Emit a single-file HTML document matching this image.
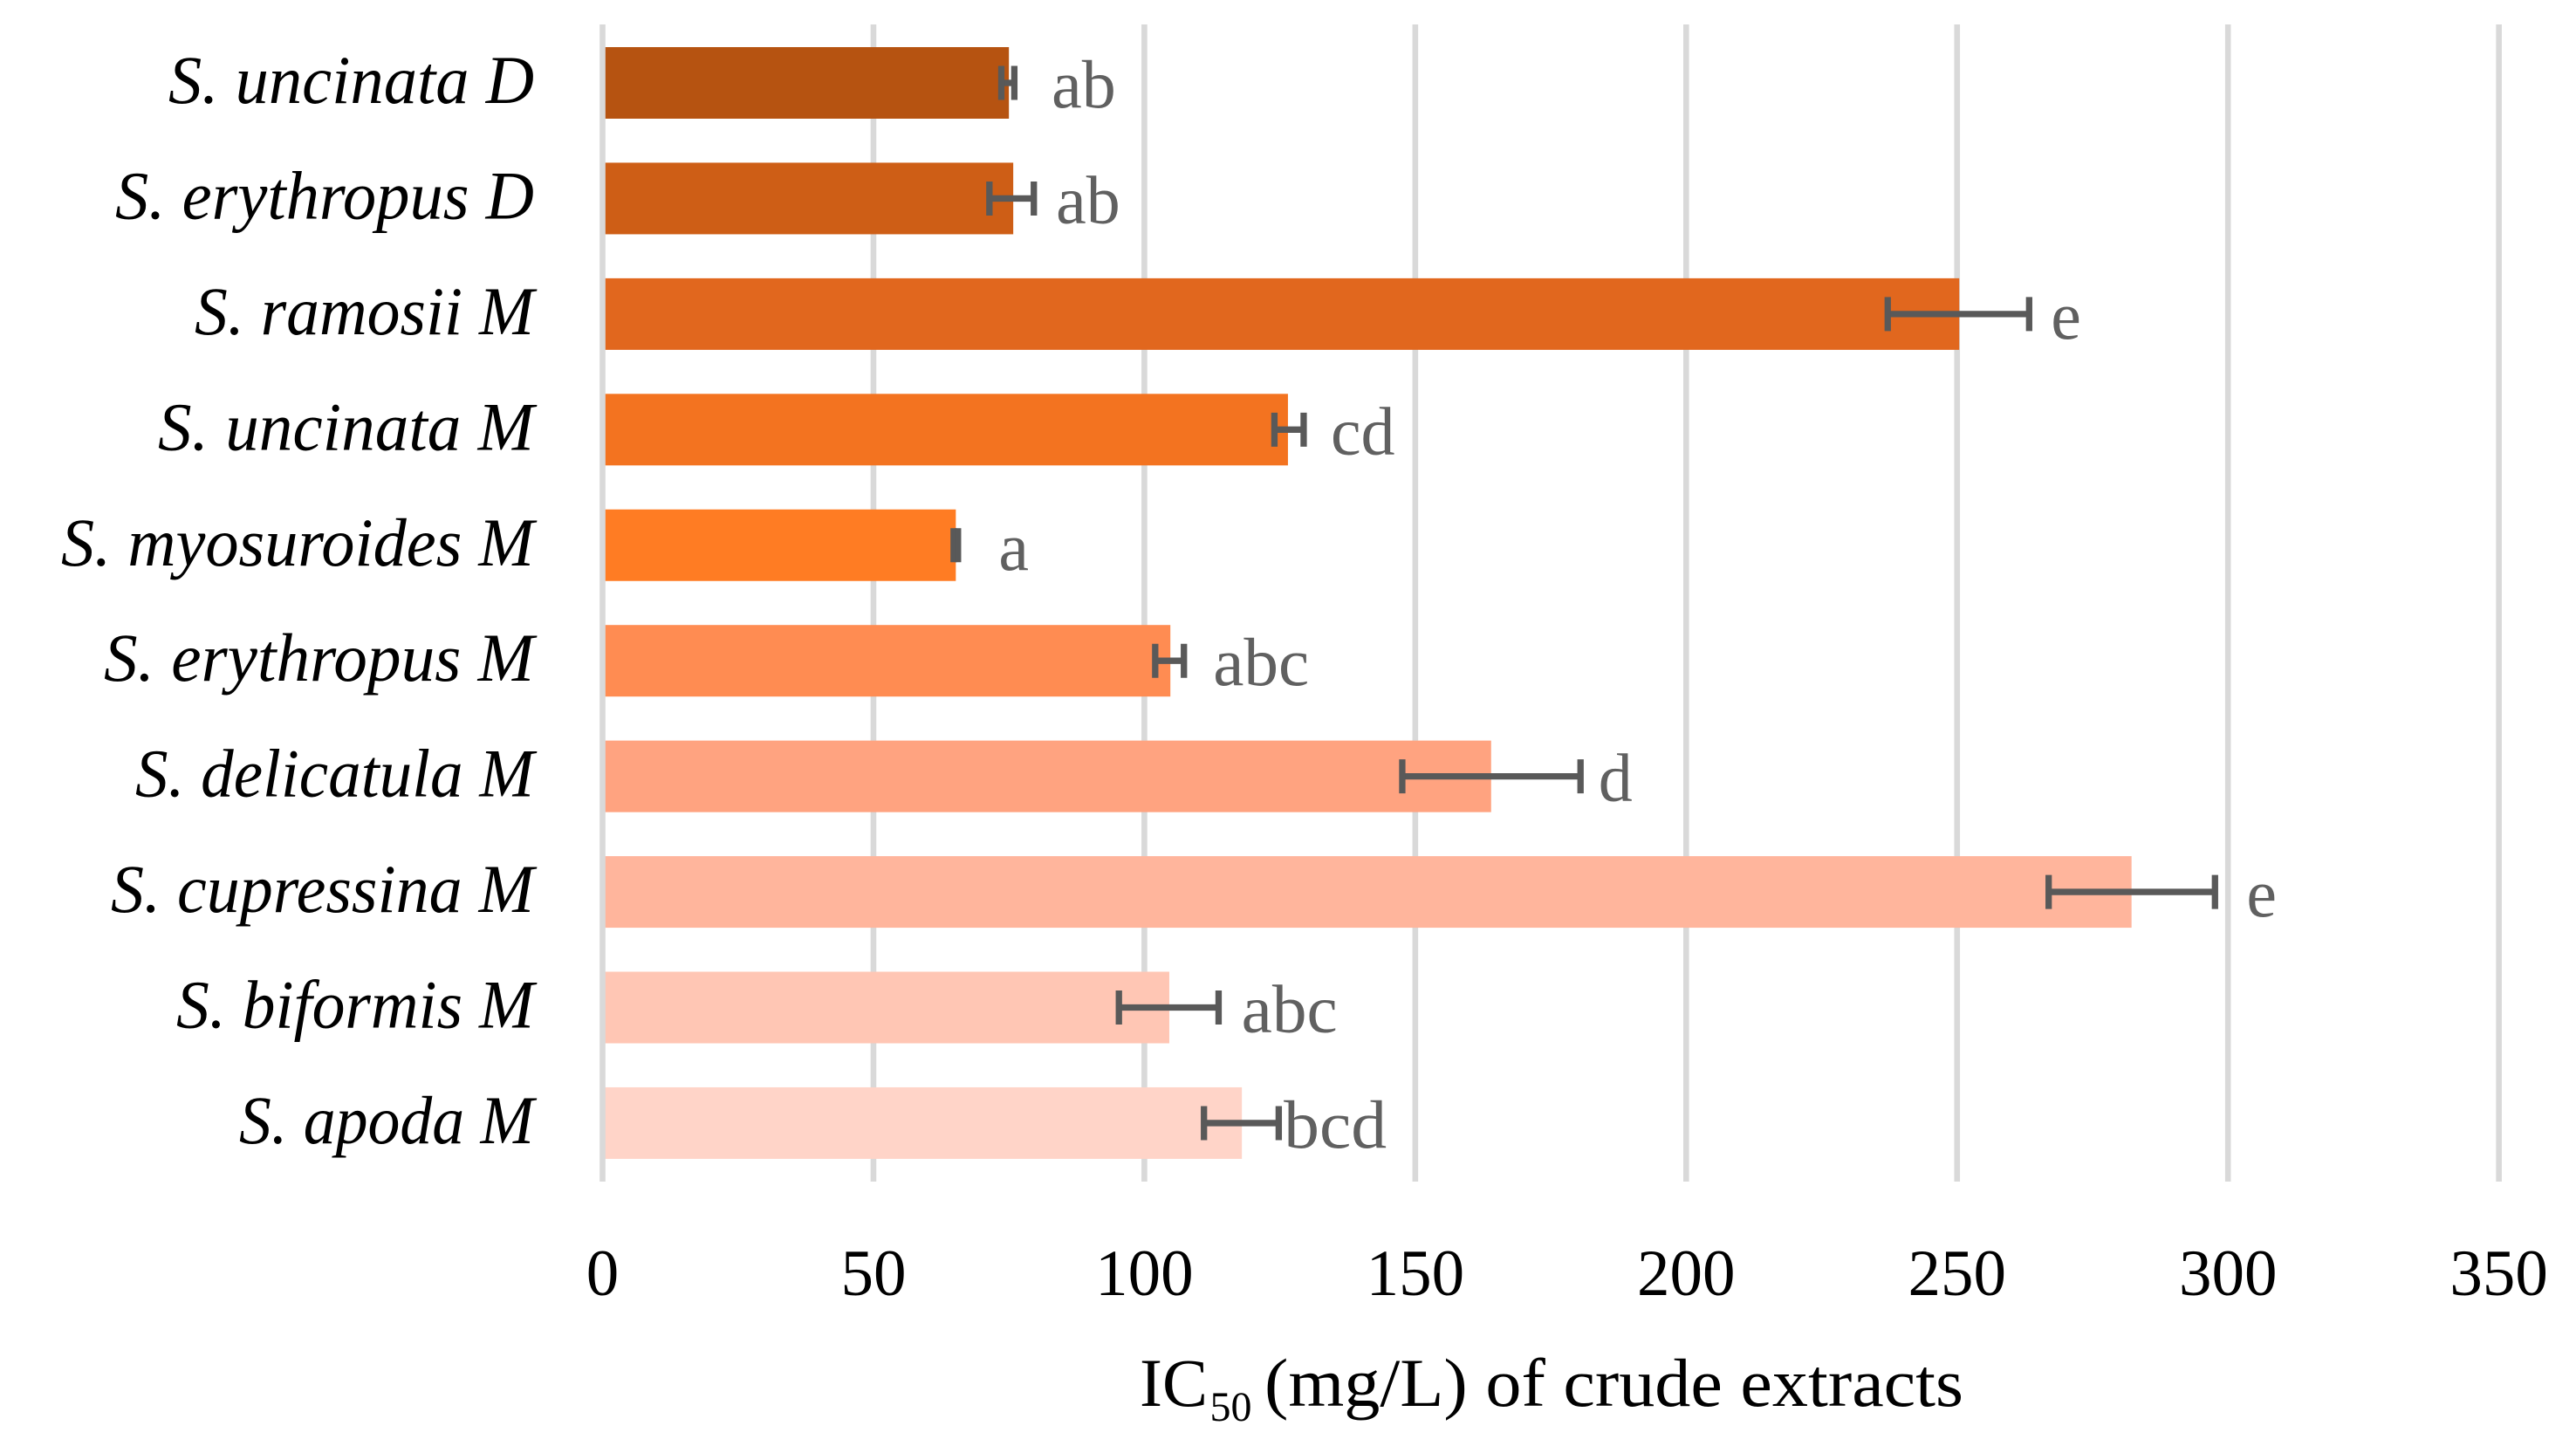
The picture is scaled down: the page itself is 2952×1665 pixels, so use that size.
<!DOCTYPE html>
<html lang="en">
<head>
<meta charset="utf-8">
<title>IC50 of crude extracts</title>
<style>
html,body{margin:0;padding:0;background:#fff;width:2952px;height:1665px;overflow:hidden}
svg{display:block;font-family:"Liberation Serif",serif}
</style>
</head>
<body>
<svg id="chart" width="2952" height="1665" viewBox="0 0 2952 1665" xmlns="http://www.w3.org/2000/svg">
  <rect x="0" y="0" width="2952" height="1665" fill="#ffffff"/>
  <g id="grid"></g>
  <g id="bars"></g>
  <g id="zero"></g>
  <g id="errors"></g>
  <g id="letters"></g>
  <g id="ylabels"></g>
  <g id="xlabels"></g>
  <text y="1611" font-size="78" fill="#000000"><tspan x="1306">IC</tspan><tspan x="1386.5" y="1628" font-size="48">50 </tspan><tspan x="1449" y="1611" textLength="801" lengthAdjust="spacingAndGlyphs">(mg/L) of crude extracts</tspan></text>
</svg>
<script>
const categories = ["S. uncinata D","S. erythropus D","S. ramosii M","S. uncinata M","S. myosuroides M","S. erythropus M","S. delicatula M","S. cupressina M","S. biformis M","S. apoda M"];
const values = [75.0,75.8,250.4,126.5,65.2,104.8,164.0,282.2,104.6,118.0];
const errorLow = [73.6,71.4,237.2,124.0,64.8,102.0,147.6,266.9,95.3,111.0];
const errorHigh = [76.0,79.6,263.3,129.4,65.6,107.3,180.5,297.6,113.7,124.8];
const letters = ["ab","ab","e","cd","a","abc","d","e","abc","bcd"];
const ticks = [0,50,100,150,200,250,300,350];

const barColors = ["#b65311","#ce5e16","#e1671e","#f37320","#ff7c23","#ff8c52","#ffa380","#ffb59c","#ffc6b4","#ffd4c8"];
const letterNudge = {2:56, 6:74, 7:82.7, 8:33.7, 9:-1};
const labelLength = {"S. uncinata D":419,"S. erythropus D":480,"S. ramosii M":389,"S. uncinata M":431,"S. myosuroides M":542,"S. erythropus M":493,"S. delicatula M":457,"S. cupressina M":485,"S. biformis M":410,"S. apoda M":338};
const letterLength = {"abc":110,"bcd":118};

const NS = "http://www.w3.org/2000/svg";
const xScale = v => 690.5 + 6.209 * v;
const yScale = i => 95 + 132.44 * i;
const BAR_H = 82, CAP = 19.5;

function make(parentId, tag, attrs, text) {
  const el = document.createElementNS(NS, tag);
  for (const k in attrs) el.setAttribute(k, attrs[k]);
  if (text !== undefined) el.textContent = text;
  document.getElementById(parentId).appendChild(el);
  return el;
}

ticks.forEach(t => {
  const parent = t === 0 ? "zero" : "grid";
  const line = make(parent, "rect", {x: xScale(t) - 3.3, y: 28, width: 6.6, height: 1326, fill: "#d9d9d9"});
  
  
  const lab = make("xlabels", "text", {x: xScale(t), y: 1484, "text-anchor": "middle", "font-size": 75, fill: "#000000"}, String(t));
  
  
});

categories.forEach((c, i) => {
  const cy = yScale(i);

  const bar = make("bars", "rect", {x: xScale(0), y: cy - BAR_H / 2, width: xScale(values[i]) - xScale(0), height: BAR_H, fill: barColors[i]});
  
  

  const stem = make("errors", "line", {x1: xScale(errorLow[i]), x2: xScale(errorHigh[i]), y1: cy, y2: cy, stroke: "#595959", "stroke-width": 7.3});
  
  

  const capLow = make("errors", "line", {x1: xScale(errorLow[i]), x2: xScale(errorLow[i]), y1: cy - CAP, y2: cy + CAP, stroke: "#595959", "stroke-width": 7.3});
  
  

  const capHigh = make("errors", "line", {x1: xScale(errorHigh[i]), x2: xScale(errorHigh[i]), y1: cy - CAP, y2: cy + CAP, stroke: "#595959", "stroke-width": 7.3});
  
  

  const letter = make("letters", "text", {x: xScale(values[i]) + 49 + (letterNudge[i] || 0), y: cy + 28, "font-size": 78, fill: "#606060"}, letters[i]);
  if (letterLength[letters[i]]) {
    letter.setAttribute("textLength", letterLength[letters[i]]);
    letter.setAttribute("lengthAdjust", "spacingAndGlyphs");
  }
  
  

  const yl = make("ylabels", "text", {x: 612, y: cy + 23, "text-anchor": "end", "font-size": 78, "font-style": "italic", fill: "#000000", textLength: labelLength[c], lengthAdjust: "spacingAndGlyphs"}, c);
  
  
});
</script>
</body>
</html>
